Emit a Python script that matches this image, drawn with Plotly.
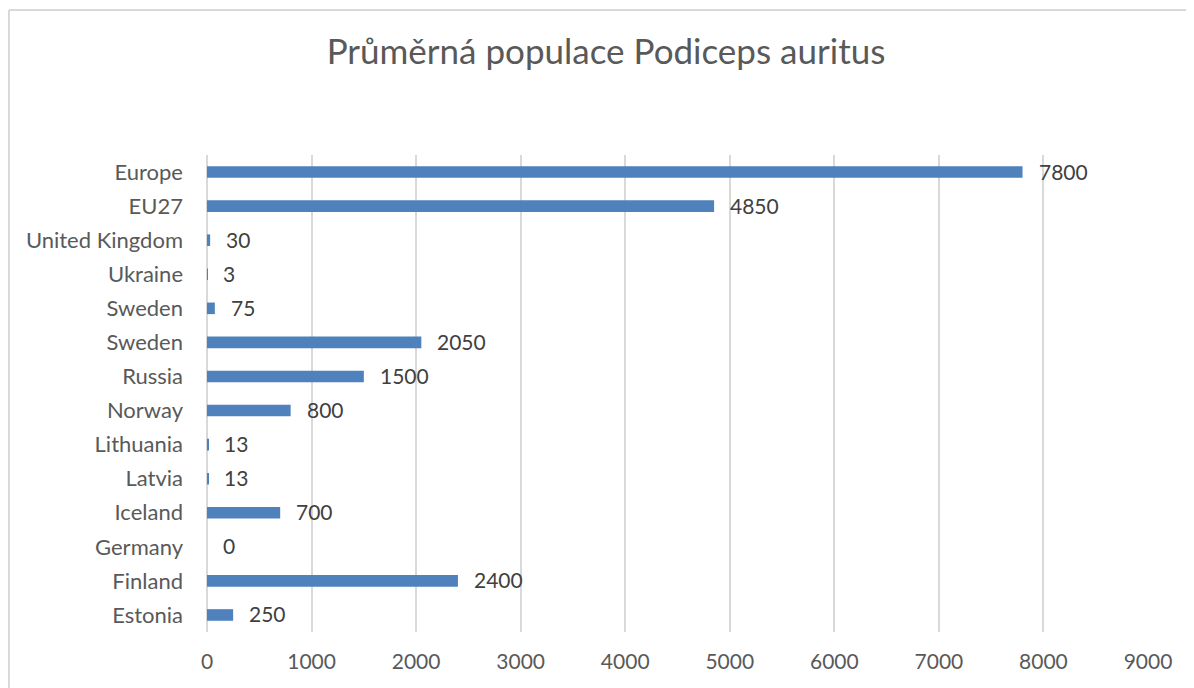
import plotly.graph_objects as go

categories = ["Estonia", "Finland", "Germany", "Iceland", "Latvia", "Lithuania",
              "Norway", "Russia", "Sweden", "Sweden", "Ukraine", "United Kingdom",
              "EU27", "Europe"]
values = [250, 2400, 0, 700, 13, 13, 800, 1500, 2050, 75, 3, 30, 4850, 7800]
x_ticks = [0, 1000, 2000, 3000, 4000, 5000, 6000, 7000, 8000, 9000]
title_text = "Průměrná populace Podiceps auritus"

positions = list(range(len(categories)))

# page body has an 8px margin; compensate so the figure lands where the reference does
OFF = 8
W, H = 1194 - OFF, 688 - OFF
ML, MR, MT, MB = 207 - OFF, 46, 155 - OFF, 56
pw = W - ML - MR
ph = H - MT - MB

FONT = "Lato, 'Open Sans', sans-serif"

fig = go.Figure()
fig.add_trace(go.Bar(
    y=positions, x=values, orientation="h",
    marker=dict(color="#4F81BD", line=dict(width=0)),
    width=0.34,
    hoverinfo="x",
))

annotations = []
for p, v in zip(positions, values):
    annotations.append(dict(
        x=v, y=p, xref="x", yref="y", text=str(v), showarrow=False,
        xanchor="left", yanchor="middle", xshift=14, yshift=1,
        font=dict(family=FONT, size=21, color="#404040"),
    ))

def px_x(p):
    return (p - OFF - ML) / pw

def px_y(p):
    return (H - MB - (p - OFF)) / ph

shapes = [
    dict(type="line", xref="paper", yref="paper",
         x0=px_x(9), x1=px_x(1200), y0=px_y(10), y1=px_y(10),
         line=dict(color="#D9D9D9", width=2)),
    dict(type="line", xref="paper", yref="paper",
         x0=px_x(9), x1=px_x(9), y0=px_y(10), y1=px_y(700),
         line=dict(color="#D9D9D9", width=2)),
]

fig.update_layout(
    width=W, height=H,
    margin=dict(l=ML, r=MR, t=MT, b=MB, autoexpand=False),
    paper_bgcolor="white", plot_bgcolor="white",
    showlegend=False,
    title=dict(text=title_text, x=(606 - OFF) / W, xanchor="center",
               y=1 - (52 - OFF) / H, yanchor="middle", yref="container",
               font=dict(family=FONT, size=35, color="#595959")),
    xaxis=dict(range=[0, 9000], tickvals=x_ticks, ticktext=[str(t) for t in x_ticks],
               showgrid=True, gridcolor="#D9D9D9", gridwidth=2,
               zeroline=True, zerolinecolor="#D9D9D9", zerolinewidth=2,
               showline=False, ticks="", ticklabelstandoff=15,
               tickfont=dict(family=FONT, size=21, color="#595959"), fixedrange=True),
    yaxis=dict(range=[-0.5, len(categories) - 0.5], tickvals=positions, ticktext=categories,
               showgrid=False, zeroline=False, showline=False, ticks="",
               ticklabelstandoff=23,
               tickfont=dict(family=FONT, size=22, color="#595959"), fixedrange=True),
    annotations=annotations,
    shapes=shapes,
)

fig.write_html("out.html")
